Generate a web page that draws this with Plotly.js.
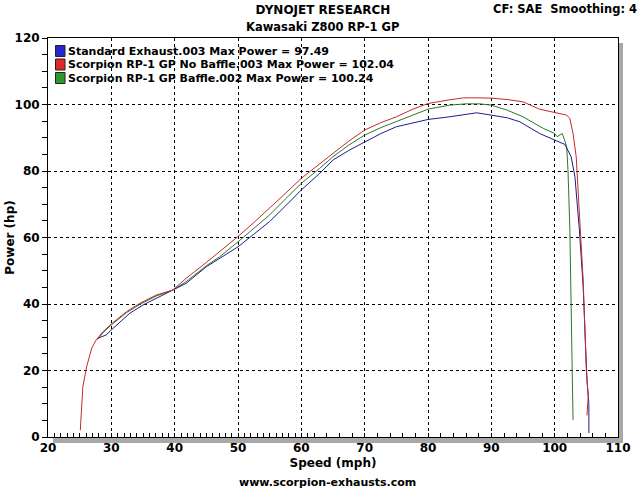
<!DOCTYPE html>
<html>
<head>
<meta charset="utf-8">
<script src="https://cdn.plot.ly/plotly-3.0.1.min.js"></script>
<style>html,body{margin:0;padding:0;background:#fff;}#chart{width:642px;height:489px;}</style>
</head>
<body>
<div id="chart"></div>
<script>
// ---- Data ----
const seriesNames = ['Standard Exhaust.003', 'Scorpion RP-1 GP No Baffle.003', 'Scorpion RP-1 GP Baffle.002'];
const maxPowerLabels = ['97.49', '102.04', '100.24'];
const seriesColors = ['#1c1c8c', '#c42a2a', '#2a7a2a'];
const swatchColors = ['#2626d0', '#e02828', '#2a9a2a'];

const standardSpeed = [27.9, 29.2, 30.0, 32.9, 35.0, 37.6, 40.0, 41.8, 45.0, 47.1, 50.0, 52.5, 55.0, 57.5, 60.0, 62.9, 65.0, 67.5, 70.0, 72.5, 75.0, 77.5, 80.0, 83.4, 85.6, 87.7, 90.0, 92.5, 94.5, 97.6, 100.0, 101.6, 102.6, 103.2, 103.9, 104.5, 105.1, 105.4, 105.4];
const standardPower = [29.7, 30.7, 32.2, 37.2, 39.7, 42.2, 44.4, 46.2, 51.2, 53.7, 57.2, 61.0, 64.8, 69.5, 74.3, 79.3, 83.3, 86.2, 88.8, 91.2, 93.3, 94.4, 95.5, 96.3, 97.0, 97.5, 96.8, 96.0, 94.8, 91.3, 89.3, 88.0, 84.3, 78.3, 62.3, 45.2, 17.1, 10.1, 1.2];

const noBaffleSpeed = [25.1, 25.3, 25.5, 26.1, 26.9, 27.6, 28.7, 30.0, 32.4, 34.5, 37.1, 39.7, 41.8, 45.0, 47.1, 50.0, 52.5, 55.0, 57.5, 60.0, 62.9, 65.0, 67.5, 70.0, 72.5, 75.0, 77.5, 80.0, 83.4, 85.6, 88.0, 90.0, 92.5, 95.0, 97.6, 100.0, 101.9, 102.4, 102.9, 103.4, 103.9, 104.5, 105.0, 105.3, 105.1];
const noBafflePower = [2.0, 7.1, 15.1, 21.1, 26.7, 29.2, 31.7, 34.0, 37.7, 40.2, 42.7, 44.2, 47.7, 52.5, 55.7, 60.3, 64.5, 68.8, 73.3, 77.8, 82.3, 85.3, 89.0, 92.3, 94.5, 96.3, 98.5, 100.3, 101.4, 102.0, 102.0, 101.9, 101.5, 100.8, 98.6, 97.5, 96.8, 95.8, 91.3, 84.3, 67.3, 47.2, 20.2, 12.1, 6.5];

const baffleSpeed = [27.8, 28.7, 30.0, 32.4, 34.5, 37.1, 39.7, 41.8, 45.0, 47.1, 50.0, 52.5, 55.0, 57.5, 60.0, 62.9, 65.0, 67.5, 70.0, 72.5, 75.0, 77.5, 80.0, 83.4, 86.0, 88.2, 90.0, 92.5, 95.0, 98.2, 100.0, 100.4, 101.2, 101.9, 102.1, 102.4, 102.6, 102.8, 102.9];
const bafflePower = [29.3, 31.4, 33.7, 37.4, 39.9, 42.4, 44.2, 46.7, 51.5, 54.2, 58.7, 62.7, 66.8, 71.6, 76.3, 80.8, 84.3, 87.8, 90.8, 93.0, 94.8, 96.8, 98.6, 99.8, 100.2, 100.2, 99.8, 98.3, 96.3, 92.8, 91.3, 90.3, 91.3, 87.3, 80.3, 62.3, 39.2, 17.1, 5.1];

const xTickVals = [20, 30, 40, 50, 60, 70, 80, 90, 100, 110];
const yTickVals = [0, 20, 40, 60, 80, 100, 120];

// ---- Layout geometry ----
const L = 48, R = 24, T = 38, B = 52, W = 642, H = 489;
const PW = W - L - R, PH = H - T - B;
const px = v => (v - L) / PW;       // pixel x -> paper
const py = v => (H - B - v) / PH;   // pixel y -> paper

const font = 'DejaVu Sans, Verdana, sans-serif';

// minor x ticks (dense at low speed, sparser at high speed as in the source)
const minorX = [];
for (let v = 21; v <= 61; v++) if (v % 10 !== 0) minorX.push(v);
for (let v = 62; v <= 108; v += 2) if (v % 10 !== 0) minorX.push(v);

const series = [
  {x: standardSpeed, y: standardPower},
  {x: noBaffleSpeed, y: noBafflePower},
  {x: baffleSpeed, y: bafflePower}
];
// draw order: green under, then blue, red
const order = [2, 0, 1];
const traces = order.map(i => ({
  type: 'scatter', mode: 'lines',
  x: series[i].x, y: series[i].y,
  name: seriesNames[i],
  line: {color: seriesColors[i], width: 1},
  showlegend: false, hoverinfo: 'x+y+name'
}));

const shapes = [
  // shadow
  {type: 'rect', xref: 'paper', yref: 'paper', layer: 'below',
   x0: px(L + 5), x1: px(L + PW + 5), y0: py(T + 5), y1: py(H - B + 6),
   fillcolor: '#a8a8a8', line: {width: 0}},
  // plot face
  {type: 'rect', xref: 'paper', yref: 'paper', layer: 'below',
   x0: 0, x1: 1, y0: 0, y1: 1, fillcolor: '#ffffff', line: {width: 0}}
];
const annotations = [
  {text: 'Kawasaki Z800 RP-1 GP', xref: 'paper', yref: 'paper', x: px(322), y: py(27),
   yanchor: 'middle', showarrow: false, font: {family: font, size: 11.5, color: '#000', weight: 'bold'}},
  {text: 'CF: SAE  Smoothing: 4', xref: 'paper', yref: 'paper', x: px(639), y: py(9),
   xanchor: 'right', yanchor: 'middle', showarrow: false, font: {family: font, size: 11.5, color: '#000', weight: 'bold'}},
  {text: 'www.scorpion-exhausts.com', xref: 'paper', yref: 'paper', x: px(327), y: py(482),
   yanchor: 'middle', showarrow: false, font: {family: font, size: 11, color: '#000', weight: 'bold'}}
];
const legendY = [51, 64.5, 78];
for (let i = 0; i < 3; i++) {
  shapes.push({type: 'rect', xref: 'paper', yref: 'paper', layer: 'above',
    x0: px(55.5), x1: px(65), y0: py(legendY[i] - 5.5), y1: py(legendY[i] + 5.5),
    fillcolor: swatchColors[i], line: {color: '#222', width: 1}});
  annotations.push({text: seriesNames[i] + ' Max Power = ' + maxPowerLabels[i],
    xref: 'paper', yref: 'paper', x: px(66), y: py(legendY[i]), xanchor: 'left', yanchor: 'middle',
    showarrow: false, font: {family: font, size: 11, color: '#000', weight: 'bold'}});
}

const layout = {
  width: W, height: H,
  margin: {l: L, r: R, t: T, b: B},
  paper_bgcolor: '#ffffff', plot_bgcolor: 'rgba(0,0,0,0)',
  title: {text: 'DYNOJET RESEARCH', x: 0.503, xanchor: 'center', y: 1 - 10 / H, yanchor: 'middle',
          yref: 'container', font: {family: font, size: 12, color: '#000', weight: 'bold'}},
  showlegend: false,
  xaxis: {
    range: [20, 110], tickmode: 'array', tickvals: xTickVals,
    ticks: 'inside', ticklen: 4, tickcolor: '#000', tickwidth: 1,
    showline: true, linecolor: '#000', linewidth: 1, mirror: true,
    showgrid: true, gridcolor: '#000', gridwidth: 1, griddash: '3px,3px',
    zeroline: false,
    minor: {tickmode: 'array', tickvals: minorX, ticks: 'inside', ticklen: 4, tickcolor: '#000', showgrid: false},
    tickfont: {family: font, size: 12, color: '#000', weight: 'bold'},
    title: {text: 'Speed (mph)', standoff: 4, font: {family: font, size: 12, color: '#000', weight: 'bold'}}
  },
  yaxis: {
    range: [0, 120], tickmode: 'array', tickvals: yTickVals,
    ticks: 'outside', ticklen: 5, tickcolor: '#000', tickwidth: 1,
    showline: true, linecolor: '#000', linewidth: 1, mirror: true,
    showgrid: true, gridcolor: '#000', gridwidth: 1, griddash: '3px,3px',
    zeroline: false,
    minor: {dtick: 5, tick0: 0, ticks: 'outside', ticklen: 5, tickcolor: '#000', showgrid: false},
    tickfont: {family: font, size: 12, color: '#000', weight: 'bold'},
    title: {text: 'Power (hp)', font: {family: font, size: 12, color: '#000', weight: 'bold'}}
  },
  shapes: shapes,
  annotations: annotations
};

Plotly.newPlot('chart', traces, layout, {staticPlot: true, displayModeBar: false});
</script>
</body>
</html>
